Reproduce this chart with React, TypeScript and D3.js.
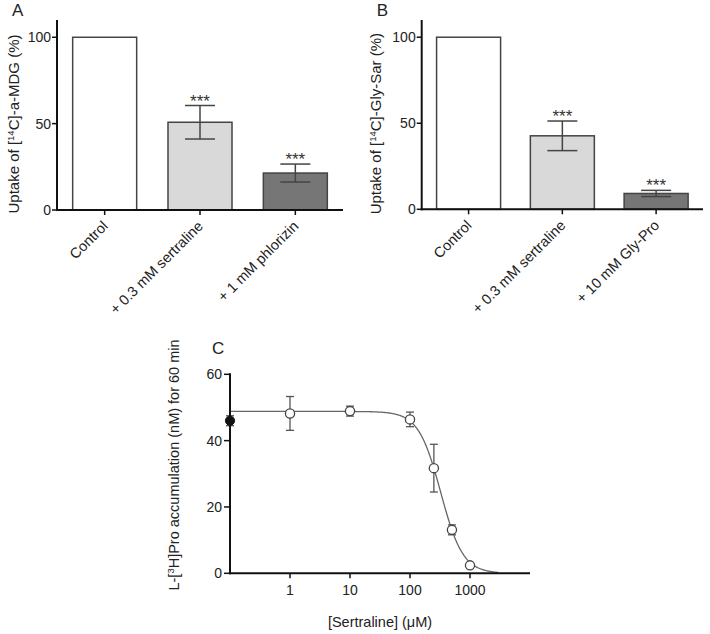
import React from "react";
import * as d3 from "d3";

// ---------- Data ----------
const catsA = ["Control", "+ 0.3 mM  sertraline", "+ 1 mM phlorizin"];
const valsA = [100, 50.8, 21.4];
const errA = [0, 9.7, 5.2];
const sigA = ["", "***", "***"];

const catsB = ["Control", "+ 0.3 mM  sertraline", "+ 10 mM Gly-Pro"];
const valsB = [100, 42.7, 9.2];
const errB = [0, 8.6, 1.8];
const sigB = ["", "***", "***"];

const barTicks = [0, 50, 100];

const concC = [1, 10, 100, 250, 500, 1000];
const accC = [48.2, 48.9, 46.4, 31.7, 13.1, 2.4];
const semC = [5.1, 1.5, 2.2, 7.2, 1.5, 0.6];
const controlC = [46.0];
const controlSemC = [1.5];
const xTicksC = [1, 10, 100, 1000];
const yTicksC = [0, 20, 40, 60];
// Fitted sigmoidal (Hill) curve parameters
const fitTop = 48.8;
const fitBottom = 0;
const fitIC50 = 325;
const fitHill = 2.34;

const FONT = "'Liberation Sans', Arial, Helvetica, sans-serif";
const TXT = "#222";
const fills = ["#ffffff", "#d9d9d9", "#767676"];

type BarProps = {
  letter: string;
  x0: number;
  x1: number;
  yTop: number;
  yBase: number;
  cats: string[];
  vals: number[];
  errs: number[];
  sig: string[];
  titleX: number;
  titleParts: [string, string, string];
};

function BarPanel(p: BarProps) {
  const y = d3.scaleLinear().domain([0, 110]).range([p.yBase, p.yTop]);
  const x = d3.scalePoint<string>().domain(p.cats).range([p.x0, p.x1]).padding(0.5);
  const bw = 64;
  const cap = 30;
  const titleY = (p.yBase + p.yTop) / 2 + 9;
  return (
    <g fontFamily={FONT} fill={TXT}>
      <text x={p.x0 - 45} y={16} fontSize={17}>{p.letter}</text>
      {p.cats.map((c, i) => {
        const cx = x(c)!;
        return (
          <rect key={"b" + i} x={cx - bw / 2} y={y(p.vals[i])} width={bw}
            height={p.yBase - y(p.vals[i])} fill={fills[i]} stroke="#444" strokeWidth={1.5} />
        );
      })}
      {p.cats.map((c, i) => {
        if (!p.errs[i]) return null;
        const cx = x(c)!;
        const hi = y(p.vals[i] + p.errs[i]);
        const lo = y(p.vals[i] - p.errs[i]);
        return (
          <g key={"e" + i} stroke="#444" strokeWidth={1.5}>
            <line x1={cx} x2={cx} y1={hi} y2={lo} />
            <line x1={cx - cap / 2} x2={cx + cap / 2} y1={hi} y2={hi} />
            <line x1={cx - cap / 2} x2={cx + cap / 2} y1={lo} y2={lo} />
          </g>
        );
      })}
      {p.cats.map((c, i) => (
        <text key={"s" + i} x={x(c)!} y={y(p.vals[i] + p.errs[i]) + 1} fontSize={17}
          textAnchor="middle" fill="#333">{p.sig[i]}</text>
      ))}
      {/* axes */}
      <line x1={p.x0} x2={p.x0} y1={p.yTop} y2={p.yBase + 1} stroke="#111" strokeWidth={2} />
      <line x1={p.x0 - 1} x2={p.x1} y1={p.yBase} y2={p.yBase} stroke="#111" strokeWidth={2} />
      {barTicks.map((t) => (
        <g key={"yt" + t}>
          <line x1={p.x0 - 5} x2={p.x0} y1={y(t)} y2={y(t)} stroke="#111" strokeWidth={1.5} />
          <text x={p.x0 - 6} y={y(t)} dy="0.35em" fontSize={14} textAnchor="end">{t}</text>
        </g>
      ))}
      {p.cats.map((c, i) => {
        const cx = x(c)!;
        return (
          <g key={"xt" + i}>
            <line x1={cx} x2={cx} y1={p.yBase} y2={p.yBase + 5} stroke="#111" strokeWidth={1.5} />
            <text transform={`translate(${cx + 4},${p.yBase + 17}) rotate(-45)`} fontSize={14.5}
              textAnchor="end">{c}</text>
          </g>
        );
      })}
      <text transform={`translate(${p.titleX},${titleY}) rotate(-90)`} dy="0.35em" fontSize={15}
        textAnchor="middle">
        {p.titleParts[0]}
        <tspan fontSize={9.5} dy={-5.5}>{p.titleParts[1]}</tspan>
        <tspan dy={5.5}>{p.titleParts[2]}</tspan>
      </text>
    </g>
  );
}

function CurvePanel() {
  const x0 = 230, x1 = 530, yBase = 573.3, yTop = 374.3;
  const x = d3.scaleLog().domain([0.1, 10000]).range([x0, x1]);
  const y = d3.scaleLinear().domain([0, 60]).range([yBase, yTop]);
  const hill = (c: number) => fitBottom + (fitTop - fitBottom) / (1 + Math.pow(c / fitIC50, fitHill));
  const xs = d3.range(-1, Math.log10(3000) + 0.001, 0.01).map((e) => Math.pow(10, e));
  const line = d3.line<number>().x((c) => x(c)).y((c) => y(hill(c))).curve(d3.curveLinear);
  const cap = 8;
  const eb = (cx: number, v: number, s: number, k: string) => (
    <g key={k} stroke="#555" strokeWidth={1.3}>
      <line x1={cx} x2={cx} y1={y(v + s)} y2={y(v - s)} />
      <line x1={cx - cap / 2} x2={cx + cap / 2} y1={y(v + s)} y2={y(v + s)} />
      <line x1={cx - cap / 2} x2={cx + cap / 2} y1={y(v - s)} y2={y(v - s)} />
    </g>
  );
  return (
    <g fontFamily={FONT} fill={TXT}>
      <text x={212} y={354} fontSize={17}>C</text>
      <path d={line(xs) || ""} fill="none" stroke="#666" strokeWidth={1.3} />
      {concC.map((c, i) => eb(x(c), accC[i], semC[i], "e" + i))}
      {controlC.map((v, i) => eb(x0, v, controlSemC[i], "ce" + i))}
      {concC.map((c, i) => (
        <circle key={"p" + i} cx={x(c)} cy={y(accC[i])} r={4.6} fill="#fff" stroke="#444" strokeWidth={1.3} />
      ))}
      {controlC.map((v, i) => (
        <circle key={"cp" + i} cx={x0} cy={y(v)} r={4.6} fill="#111" stroke="#111" strokeWidth={1} />
      ))}
      <line x1={x0} x2={x0} y1={yTop - 1} y2={yBase + 1} stroke="#111" strokeWidth={2} />
      <line x1={x0 - 1} x2={x1} y1={yBase} y2={yBase} stroke="#111" strokeWidth={2} />
      {yTicksC.map((t) => (
        <g key={"yt" + t}>
          <line x1={x0 - 6} x2={x0} y1={y(t)} y2={y(t)} stroke="#111" strokeWidth={1.5} />
          <text x={x0 - 8} y={y(t)} dy="0.35em" fontSize={14} textAnchor="end">{t}</text>
        </g>
      ))}
      {xTicksC.map((t) => (
        <g key={"xt" + t}>
          <line x1={x(t)} x2={x(t)} y1={yBase} y2={yBase + 5} stroke="#111" strokeWidth={1.5} />
          <text x={x(t)} y={595} fontSize={14} textAnchor="middle">{t}</text>
        </g>
      ))}
      <text x={(x0 + x1) / 2} y={627} fontSize={14.5} textAnchor="middle">[Sertraline] (μM)</text>
      <text transform={`translate(174,465) rotate(-90)`} dy="0.35em" fontSize={14.5} textAnchor="middle">
        L-[
        <tspan fontSize={9.5} dy={-5.5}>3</tspan>
        <tspan dy={5.5}>H]Pro accumulation (nM) for 60 min</tspan>
      </text>
    </g>
  );
}

export default function App() {
  return (
    <svg width={710} height={634} style={{ position: "absolute", left: 0, top: 0, background: "#fff" }}>
      <rect width={710} height={634} fill="#fff" />
      <BarPanel letter="A" x0={57} x1={343} yTop={20} yBase={210} cats={catsA} vals={valsA} errs={errA}
        sig={sigA} titleX={14} titleParts={["Uptake of [", "14", "C]-a-MDG (%)"]} />
      <BarPanel letter="B" x0={421.7} x1={703} yTop={20} yBase={209.3} cats={catsB} vals={valsB} errs={errB}
        sig={sigB} titleX={376} titleParts={["Uptake of [", "14", "C]-Gly-Sar (%)"]} />
      <CurvePanel />
    </svg>
  );
}
